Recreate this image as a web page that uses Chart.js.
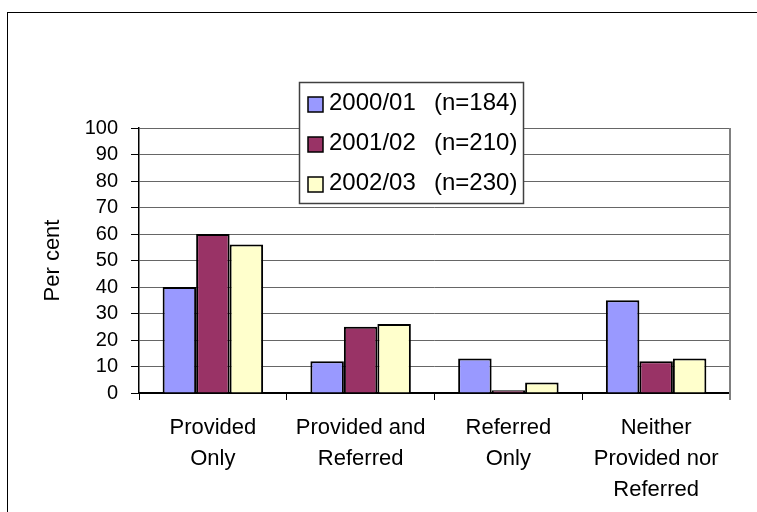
<!DOCTYPE html>
<html>
<head>
<meta charset="utf-8">
<title>Per cent by service outcome</title>
<script src="https://cdn.jsdelivr.net/npm/chart.js@4.4.1/dist/chart.umd.min.js"></script>
<style>
  html, body { margin: 0; padding: 0; background: #ffffff; }
  #wrap { width: 757px; height: 512px; }
</style>
</head>
<body>
<div id="wrap"><canvas id="chart" width="757" height="512"></canvas></div>
<script>
// Outcome categories (multi-line tick labels)
const categories = [
  ['Provided', 'Only'],
  ['Provided and', 'Referred'],
  ['Referred', 'Only'],
  ['Neither', 'Provided nor', 'Referred']
];

// Reporting years and their sample sizes
const years = ['2000/01', '2001/02', '2002/03'];
const sampleSizes = [184, 210, 230];

// Per cent of cases in each outcome, one array per year
const values2000 = [40, 12, 13, 35];
const values2001 = [60, 25, 1, 12];
const values2002 = [56, 26, 4, 13];

// Y axis tick values
const yTicks = [0, 10, 20, 30, 40, 50, 60, 70, 80, 90, 100];

const FONT = "'Liberation Sans', Arial, Helvetica, sans-serif";
const fills = ['#9999FF', '#993366', '#FFFFCC'];
const seriesValues = [values2000, values2001, values2002];

const datasets = years.map((y, i) => ({
  label: y + '  (n=' + sampleSizes[i] + ')',
  data: seriesValues[i],
  backgroundColor: fills[i],
  borderColor: '#000000',
  borderWidth: 2,
  categoryPercentage: 0.68,
  barPercentage: 1.0
}));

// Outer frame of the chart object
const framePlugin = {
  id: 'frame',
  beforeDraw(chart) {
    const ctx = chart.ctx;
    ctx.save();
    ctx.fillStyle = '#ffffff';
    ctx.fillRect(0, 0, chart.width, chart.height);
    ctx.strokeStyle = '#000000';
    ctx.lineWidth = 1;
    ctx.strokeRect(7.5, 12.5, 900, 700);
    ctx.restore();
  }
};

// Right-hand edge of the plot area
const plotEdgePlugin = {
  id: 'plotEdge',
  afterDatasetsDraw(chart) {
    const { ctx, chartArea } = chart;
    ctx.save();
    ctx.strokeStyle = '#808080';
    ctx.lineWidth = 2;
    ctx.beginPath();
    ctx.moveTo(chartArea.right, chartArea.top);
    ctx.lineTo(chartArea.right, chartArea.bottom + 7);
    ctx.stroke();
    ctx.restore();
  }
};

// Boxed legend floating over the top of the plot area
const boxLegendPlugin = {
  id: 'boxLegend',
  afterDraw(chart) {
    const ctx = chart.ctx;
    const x0 = 299, y0 = 82, w = 224, h = 121;
    ctx.save();
    ctx.fillStyle = '#ffffff';
    ctx.fillRect(x0, y0, w, h);
    ctx.strokeStyle = '#404040';
    ctx.lineWidth = 1.5;
    ctx.strokeRect(x0 + 0.5, y0 + 0.5, w, h);
    ctx.font = '24px ' + FONT;
    ctx.textBaseline = 'middle';
    ctx.textAlign = 'left';
    chart.data.datasets.forEach((ds, i) => {
      const rowY = y0 + 21 + i * 40;
      ctx.fillStyle = ds.backgroundColor;
      ctx.fillRect(308, rowY - 6, 15, 15);
      ctx.strokeStyle = '#000000';
      ctx.lineWidth = 1.5;
      ctx.strokeRect(308, rowY - 6, 15, 15);
      const parts = ds.label.split('  ');
      ctx.fillStyle = '#000000';
      ctx.fillText(parts[0], 329, rowY);
      ctx.fillText(parts[1], 434, rowY);
    });
    ctx.restore();
  }
};

new Chart(document.getElementById('chart'), {
  type: 'bar',
  data: { labels: categories, datasets },
  options: {
    responsive: false,
    devicePixelRatio: 1,
    animation: false,
    layout: { padding: { top: 128, right: 27, left: 0, bottom: 0 } },
    plugins: {
      legend: { display: false },
      tooltip: { enabled: false }
    },
    scales: {
      x: {
        type: 'category',
        offset: true,
        afterFit(scale) { scale.height = 119; },
        grid: {
          offset: true,
          drawOnChartArea: false,
          drawTicks: true,
          tickLength: 7,
          color: '#000000',
          tickColor: '#000000'
        },
        border: { display: true, color: '#000000', width: 2 },
        ticks: {
          color: '#000000',
          font: { family: FONT, size: 22, lineHeight: 1.41 },
          padding: 12,
          maxRotation: 0,
          autoSkip: false
        }
      },
      y: {
        min: yTicks[0],
        max: yTicks[yTicks.length - 1],
        afterFit(scale) { scale.width = 139; },
        afterBuildTicks(scale) { scale.ticks = yTicks.map(v => ({ value: v })); },
        grid: {
          color: '#666666',
          lineWidth: 1,
          tickLength: 8,
          tickColor: '#000000'
        },
        border: { display: true, color: '#000000', width: 1.5 },
        ticks: {
          color: '#000000',
          font: { family: FONT, size: 20 },
          padding: 13,
          stepSize: 10,
          autoSkip: false
        },
        title: {
          display: true,
          text: 'Per cent',
          color: '#000000',
          font: { family: FONT, size: 22 },
          padding: { top: 40, bottom: 0 }
        }
      }
    }
  },
  plugins: [framePlugin, plotEdgePlugin, boxLegendPlugin]
});
</script>
</body>
</html>
